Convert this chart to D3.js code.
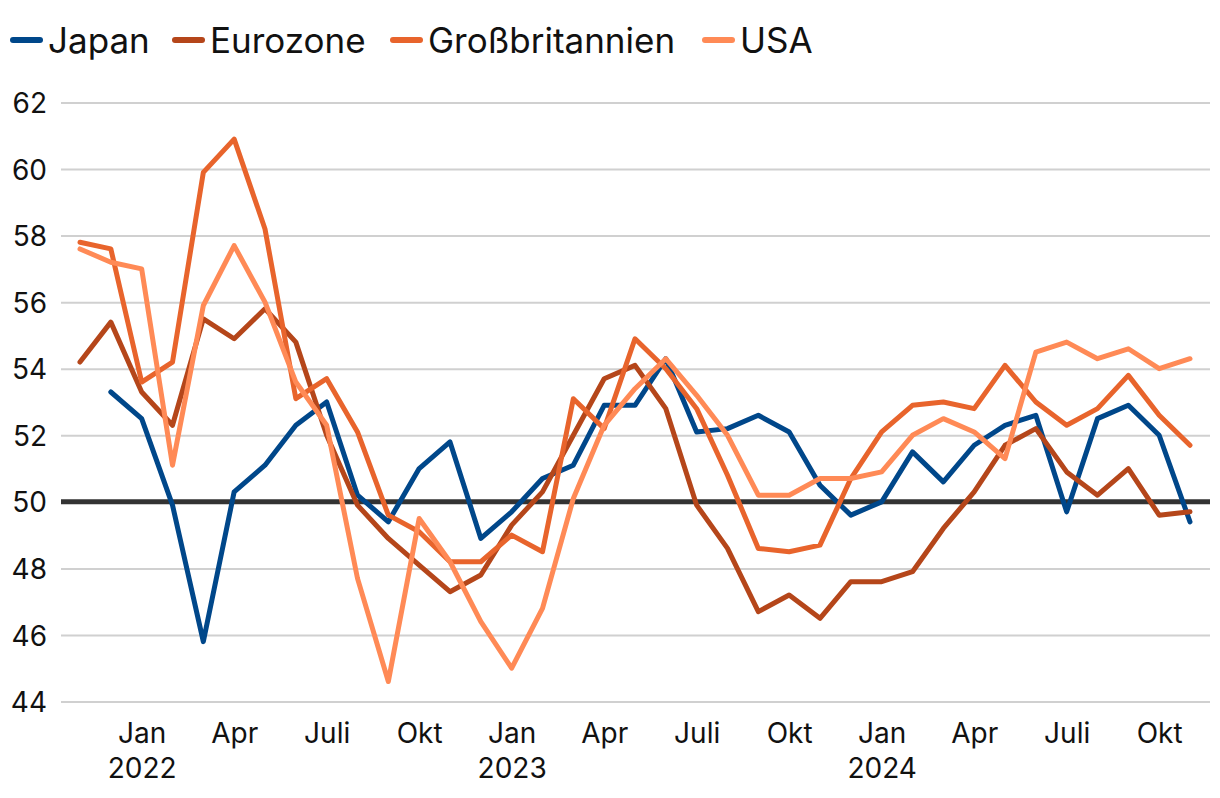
<!DOCTYPE html>
<html>
<head>
<meta charset="utf-8">
<script src="https://cdn.jsdelivr.net/npm/d3@7"></script>
<style>
  html, body { margin: 0; padding: 0; background: #fff; }
  svg { display: block; font-family: Inter, "Noto Sans", sans-serif; }
</style>
</head>
<body>
<svg id="chart" width="1220" height="798"></svg>
<script>
// Months Nov 2021 .. Nov 2024 (37 points)
const months = ["Nov","Dez","Jan","Feb","Mär","Apr","Mai","Jun","Juli","Aug","Sep","Okt",
  "Nov","Dez","Jan","Feb","Mär","Apr","Mai","Jun","Juli","Aug","Sep","Okt",
  "Nov","Dez","Jan","Feb","Mär","Apr","Mai","Jun","Juli","Aug","Sep","Okt","Nov"];
const years = [2021,2021,2022,2022,2022,2022,2022,2022,2022,2022,2022,2022,
  2022,2022,2023,2023,2023,2023,2023,2023,2023,2023,2023,2023,
  2023,2023,2024,2024,2024,2024,2024,2024,2024,2024,2024,2024,2024];

const japan = [null,53.3,52.5,49.9,45.8,50.3,51.1,52.3,53.0,50.2,49.4,51.0,
  51.8,48.9,49.7,50.7,51.1,52.9,52.9,54.3,52.1,52.2,52.6,52.1,
  50.5,49.6,50.0,51.5,50.6,51.7,52.3,52.6,49.7,52.5,52.9,52.0,49.4];
const eurozone = [54.2,55.4,53.3,52.3,55.5,54.9,55.8,54.8,52.0,49.9,48.9,48.1,
  47.3,47.8,49.3,50.3,52.0,53.7,54.1,52.8,49.9,48.6,46.7,47.2,
  46.5,47.6,47.6,47.9,49.2,50.3,51.7,52.2,50.9,50.2,51.0,49.6,49.7];
const grossbritannien = [57.8,57.6,53.6,54.2,59.9,60.9,58.2,53.1,53.7,52.1,49.6,49.1,
  48.2,48.2,49.0,48.5,53.1,52.2,54.9,54.0,52.8,50.8,48.6,48.5,
  48.7,50.7,52.1,52.9,53.0,52.8,54.1,53.0,52.3,52.8,53.8,52.6,51.7];
const usa = [57.6,57.2,57.0,51.1,55.9,57.7,56.0,53.6,52.3,47.7,44.6,49.5,
  48.2,46.4,45.0,46.8,50.1,52.3,53.4,54.3,53.2,52.0,50.2,50.2,
  50.7,50.7,50.9,52.0,52.5,52.1,51.3,54.5,54.8,54.3,54.6,54.0,54.3];

const seriesNames = ["Japan","Eurozone","Großbritannien","USA"];
const seriesValues = [japan, eurozone, grossbritannien, usa];
const colors = ["#00478a","#b5461a","#e8642c","#ff8a56"];

const yTicks = [44,46,48,50,52,54,56,58,60,62];
const xTickMonths = ["Jan","Apr","Juli","Okt"];

const svg = d3.select("#chart");
const keys = months.map((m,i)=> i);
const x = d3.scalePoint().domain(keys).range([80, 1190]);
const y = d3.scaleLinear().domain([44,62]).range([701.5, 102.5]);

const gridLeft = 61, gridRight = 1210;

// gridlines + y labels via axis
const yAxis = d3.axisLeft(y).tickValues(yTicks).tickSize(-(gridRight-gridLeft)).tickPadding(14).tickFormat(d3.format("d"));
const gy = svg.append("g").attr("transform", `translate(${gridLeft},0)`).call(yAxis);
gy.select(".domain").remove();
gy.selectAll(".tick line").attr("stroke", "#d0d0d0").attr("stroke-width", 2);
gy.selectAll(".tick text").attr("font-size", 28).attr("fill", "#111").attr("font-family", "Inter").attr("dy", "0.36em");

// x axis labels
const tickIdx = keys.filter(i => xTickMonths.includes(months[i]));
const xAxis = d3.axisBottom(x).tickValues(tickIdx).tickSize(0).tickPadding(0).tickFormat(i => months[i]);
const gx = svg.append("g").attr("transform", "translate(0,716)").call(xAxis);
gx.select(".domain").remove();
gx.selectAll(".tick text").attr("font-size", 28).attr("fill", "#111").attr("font-family", "Inter").attr("dy", "0.95em");
gx.selectAll(".tick").filter(i => months[i] === "Jan").append("text")
  .attr("y", 0).attr("dy", "2.22em").attr("font-size", 28).attr("fill", "#111")
  .attr("text-anchor", "middle").attr("font-family", "Inter")
  .text(i => years[i]);

// zero line at 50
svg.append("line").attr("x1", gridLeft).attr("x2", gridRight)
  .attr("y1", y(50)).attr("y2", y(50)).attr("stroke", "#333").attr("stroke-width", 5);

// lines
const line = d3.line().defined(d => d.v != null).x(d => x(d.i)).y(d => y(d.v));
seriesValues.forEach((vals, s) => {
  svg.append("path")
    .datum(vals.map((v,i)=>({i, v})))
    .attr("fill", "none").attr("stroke", colors[s]).attr("stroke-width", 5)
    .attr("stroke-linejoin", "round").attr("stroke-linecap", "round")
    .attr("d", line);
});

// legend
const legendX = [11, 173, 391, 703];
const lg = svg.append("g");
seriesNames.forEach((n, s) => {
  const g = lg.append("g").attr("transform", `translate(${legendX[s]},40)`);
  g.append("line").attr("x1", 2).attr("x2", 29).attr("y1", 0).attr("y2", 0)
    .attr("stroke", colors[s]).attr("stroke-width", 6).attr("stroke-linecap", "round");
  g.append("text").attr("x", 37).attr("y", 0).attr("dy", "0.36em")
    .attr("font-size", 35).attr("fill", "#111").attr("font-family", "Inter").text(n);
});
</script>
</body>
</html>
